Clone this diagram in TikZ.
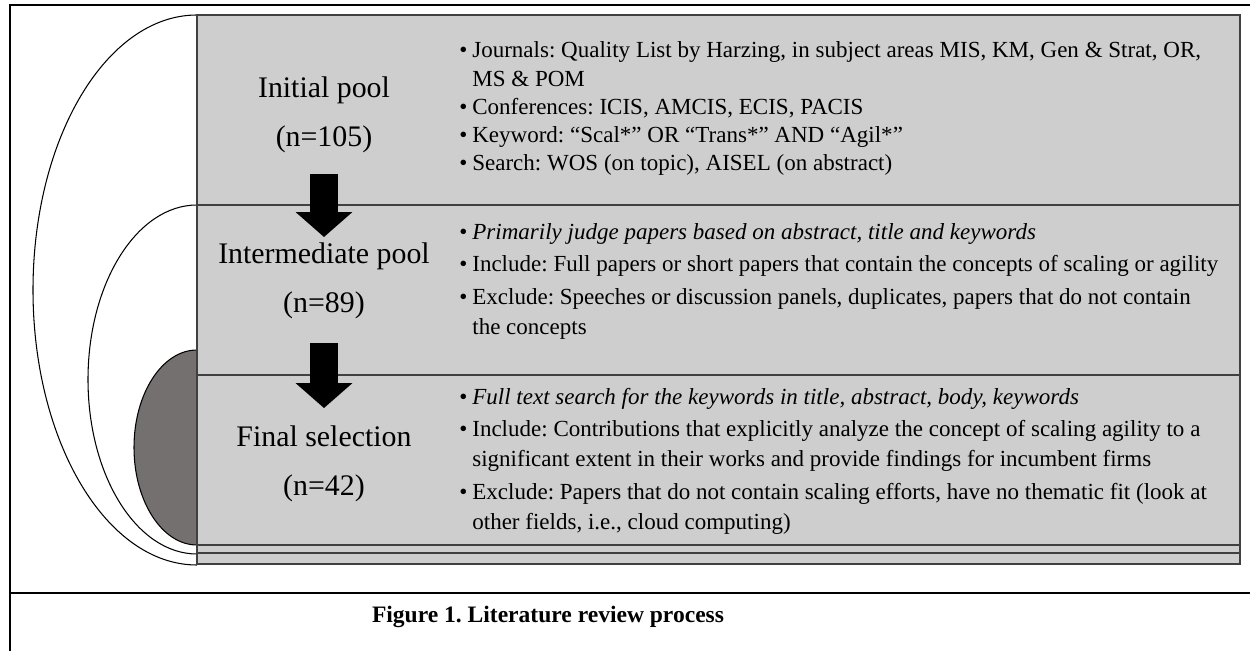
\documentclass[tikz,border=0pt]{standalone}
\usepackage{fontspec}
\setmainfont{Liberation Serif}
\usepackage{tikz}
\usetikzlibrary{arrows.meta}
\definecolor{PoolGray}{RGB}{206,206,206}
\definecolor{EdgeGray}{RGB}{64,64,64}
\definecolor{CoreGray}{RGB}{116,112,112}
\frenchspacing
\newcommand{\bitem}[1]{\hangindent=7.4pt\hangafter=1\noindent\makebox[7.4pt][l]{\textbullet}#1\par}

\begin{document}
\begin{tikzpicture}[x=0.02cm, y=-0.02cm,
	pool/.style={fill=PoolGray, draw=EdgeGray, line width=0.6pt},
	stage/.style={align=center, inner sep=0pt, font=\fontsize{17}{27.9}\selectfont},
	crit/.style={anchor=base west, inner sep=0pt},
	bigarrow/.style={line width=15.4pt, -{Triangle[width=32.4pt, length=14.2pt, line width=0pt]}}]
	\useasboundingbox (0,0) rectangle (1250,651);
	\draw[line width=1.1pt] (10,651) -- (10,5) -- (1250,5);
	\draw[line width=1.1pt] (10,593) -- (1250,593);
	\draw[line width=0.6pt] (197,15) arc[start angle=270, end angle=90, x radius=164, y radius=275];
	\draw[line width=0.6pt] (197,205) arc[start angle=270, end angle=90, x radius=109, y radius=174.5];
	\filldraw[fill=CoreGray, line width=0.6pt] (197,350) arc[start angle=270, end angle=90, x radius=63, y radius=97.5] -- cycle;
	\filldraw[pool] (197,15) rectangle (1240,205);
	\filldraw[pool] (197,205) rectangle (1240,375);
	\filldraw[pool] (197,375) rectangle (1240,545);
	\filldraw[pool] (197,545) rectangle (1240,553);
	\filldraw[pool] (197,553) rectangle (1240,564);
	\node[stage] (ini) at (324,114.5) {Initial pool\\(n=105)};
	\node[stage] (mid) at (324,281) {Intermediate pool\\(n=89)};
	\node[stage] (fin) at (324,464) {Final selection\\(n=42)};
	\draw[bigarrow, shorten <=11.8pt, shorten >=3.2pt] (ini.south) -- (mid.north);
	\draw[bigarrow, shorten <=13.5pt, shorten >=10pt] (mid.south) -- (fin.north);
	\node[crit] (crit1) at (459,58) {\begin{minipage}[t]{15.8cm}\fontsize{13.1}{16}\selectfont
		\bitem{Journals: Quality List by Harzing, in subject areas MIS, KM, Gen \& Strat, OR,\newline MS \& POM}
		\bitem{Conferences: ICIS, AMCIS, ECIS, PACIS}
		\bitem{Keyword: “Scal*” OR “Trans*” AND “Agil*”}
		\bitem{Search: WOS (on topic), AISEL (on abstract)}
	\end{minipage}};
	\node[crit] (crit2) at (459,239.2) {\begin{minipage}[t]{15.8cm}\fontsize{13.1}{17.1}\selectfont\setlength{\parskip}{1.5pt}
		\bitem{\textit{Primarily judge papers based on abstract, title and keywords}}
		\bitem{Include: Full papers or short papers that contain the concepts of scaling or agility}
		\bitem{Exclude: Speeches or discussion panels, duplicates, papers that do not contain\newline the concepts}
	\end{minipage}};
	\node[crit] (crit3) at (459,404.2) {\begin{minipage}[t]{15.8cm}\fontsize{13.1}{17.1}\selectfont\setlength{\parskip}{1.5pt}
		\bitem{\textit{Full text search for the keywords in title, abstract, body, keywords}}
		\bitem{Include: Contributions that explicitly analyze the concept of scaling agility to a\newline significant extent in their works and provide findings for incumbent firms}
		\bitem{Exclude: Papers that do not contain scaling efforts, have no thematic fit (look at\newline other fields, i.e., cloud computing)}
	\end{minipage}};
	\node[font=\bfseries\fontsize{13.4}{15}\selectfont] (cap) at (548,617) {Figure 1. Literature review process};
\end{tikzpicture}
\end{document}
